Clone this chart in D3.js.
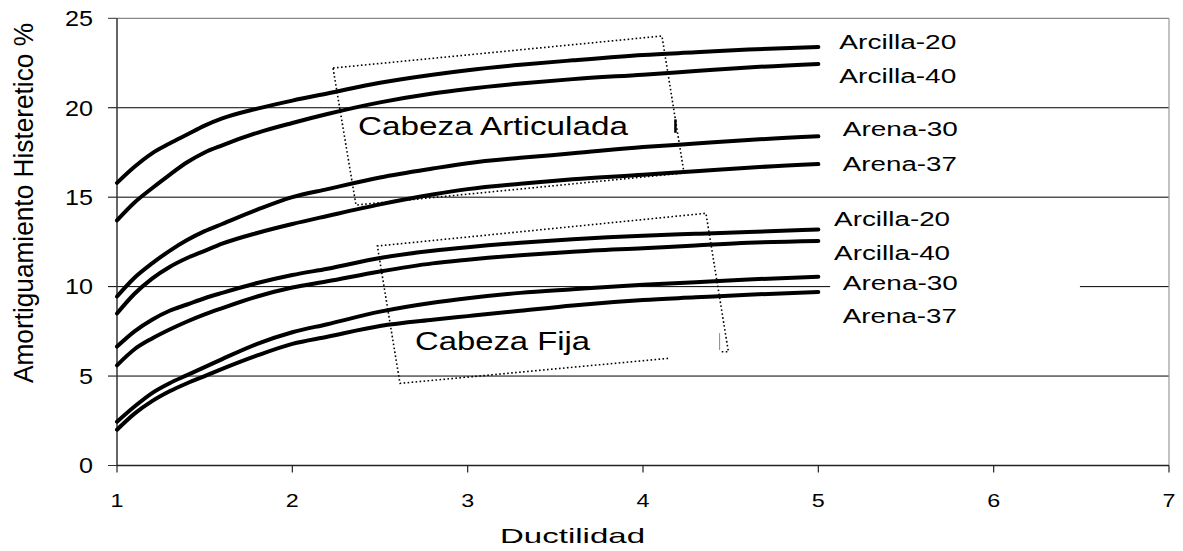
<!DOCTYPE html>
<html>
<head>
<meta charset="utf-8">
<script src="https://cdn.jsdelivr.net/npm/d3@7"></script>
<style>
  body { margin: 0; background: #fff; }
  svg { display: block; font-family: Arial, "Liberation Sans", sans-serif; }
</style>
</head>
<body>
<svg width="1183" height="551"></svg>
<script>
// Ductilidad values (x) shared by all curves
const ductilidad = [1, 1.1, 1.2, 1.3, 1.4, 1.5, 1.6, 1.8, 2, 2.2, 2.5, 2.8, 3, 3.3, 3.6, 4, 4.3, 4.6, 5];

// Cabeza Articulada
const artArcilla20 = [15.8, 16.7, 17.45, 18.0, 18.5, 19.0, 19.4, 19.95, 20.4, 20.8, 21.4, 21.85, 22.1, 22.4, 22.65, 22.95, 23.1, 23.25, 23.4];
const artArcilla40 = [13.7, 14.7, 15.5, 16.25, 16.95, 17.5, 17.9, 18.6, 19.15, 19.65, 20.3, 20.8, 21.05, 21.35, 21.6, 21.85, 22.05, 22.25, 22.45];
const artArena30 = [9.45, 10.5, 11.3, 12.0, 12.6, 13.1, 13.5, 14.3, 15.0, 15.45, 16.1, 16.6, 16.9, 17.2, 17.45, 17.8, 18.0, 18.2, 18.4];
const artArena37 = [8.5, 9.6, 10.45, 11.1, 11.6, 12.0, 12.4, 13.0, 13.5, 13.95, 14.6, 15.15, 15.45, 15.75, 16.0, 16.25, 16.45, 16.65, 16.85];

// Cabeza Fija
const fijaArcilla20 = [6.65, 7.5, 8.15, 8.65, 9.0, 9.35, 9.65, 10.2, 10.65, 11.0, 11.6, 12.0, 12.2, 12.45, 12.65, 12.85, 12.95, 13.05, 13.2];
const fijaArcilla40 = [5.6, 6.5, 7.1, 7.6, 8.05, 8.45, 8.8, 9.45, 9.95, 10.3, 10.85, 11.3, 11.5, 11.75, 11.95, 12.15, 12.3, 12.45, 12.55];
const fijaArena30 = [2.45, 3.3, 4.05, 4.6, 5.05, 5.5, 5.95, 6.8, 7.45, 7.9, 8.6, 9.1, 9.35, 9.65, 9.85, 10.1, 10.25, 10.4, 10.55];
const fijaArena37 = [2.0, 2.9, 3.6, 4.15, 4.6, 5.0, 5.4, 6.15, 6.8, 7.2, 7.8, 8.15, 8.35, 8.65, 8.95, 9.25, 9.4, 9.55, 9.7];

const seriesNames = ["Arcilla-20", "Arcilla-40", "Arena-30", "Arena-37"];
const allSeries = [artArcilla20, artArcilla40, artArena30, artArena37,
                   fijaArcilla20, fijaArcilla40, fijaArena30, fijaArena37];

const xTicks = [1, 2, 3, 4, 5, 6, 7];
const yTicks = [0, 5, 10, 15, 20, 25];

// label placement (data units) for the 8 curve labels: [x, baseline y, width px]
const labelPos = [
  [5.12, 23.28, 117], [5.12, 21.38, 117], [5.14, 18.43, 115], [5.14, 16.48, 114],
  [5.09, 13.39, 116], [5.09, 11.49, 116], [5.14, 9.81, 115], [5.14, 7.97, 114]
];

// dotted annotation boxes (data units)
const boxArticulada = [[2.232, 22.22], [4.108, 24.01], [4.234, 16.35], [2.363, 14.56], [2.232, 22.22]];
const boxFijaOpen = [[4.143, 5.99], [2.614, 4.59], [2.485, 12.27], [4.359, 14.10], [4.487, 6.36], [4.439, 6.36]];

const svg = d3.select("svg");
const margin = { top: 18.3, left: 117, right: 14, bottom: 85.5 };
const width = +svg.attr("width");
const height = +svg.attr("height");

const x = d3.scaleLinear().domain([1, 7]).range([margin.left, width - margin.right]);
const y = d3.scaleLinear().domain([0, 25]).range([height - margin.bottom, margin.top]);

// horizontal gridlines (extend out as tick marks)
svg.append("g")
  .selectAll("line")
  .data([5, 10, 15, 20])
  .enter().append("line")
    .attr("x1", x(1) - 9)
    .attr("x2", x(7))
    .attr("y1", d => y(d))
    .attr("y2", d => y(d))
    .attr("stroke", "#000")
    .attr("stroke-width", 1);

// tick at 25 / 0
svg.append("line").attr("x1", x(1) - 9).attr("x2", x(1)).attr("y1", y(25)).attr("y2", y(25)).attr("stroke", "#333");
svg.append("line").attr("x1", x(1) - 9).attr("x2", x(1)).attr("y1", y(0)).attr("y2", y(0)).attr("stroke", "#333");

// top and right border (grey)
svg.append("line").attr("x1", x(1)).attr("x2", x(7)).attr("y1", y(25)).attr("y2", y(25))
  .attr("stroke", "#888").attr("stroke-width", 1.2);
svg.append("line").attr("x1", x(7)).attr("x2", x(7)).attr("y1", y(25)).attr("y2", y(0))
  .attr("stroke", "#999").attr("stroke-width", 1.2);

// white text box behind the lower labels
svg.append("rect")
  .attr("x", x(5.067)).attr("y", y(14.56))
  .attr("width", x(6.492) - x(5.067)).attr("height", y(7.46) - y(14.56))
  .attr("fill", "#fff");

// axes
svg.append("line").attr("x1", x(1)).attr("x2", x(1)).attr("y1", y(25)).attr("y2", y(0))
  .attr("stroke", "#333").attr("stroke-width", 1.5);
svg.append("line").attr("x1", x(1)).attr("x2", x(7)).attr("y1", y(0)).attr("y2", y(0))
  .attr("stroke", "#222").attr("stroke-width", 1.5);

svg.append("g")
  .selectAll("line")
  .data(xTicks)
  .enter().append("line")
    .attr("x1", d => x(d)).attr("x2", d => x(d))
    .attr("y1", y(0)).attr("y2", y(0) + 7)
    .attr("stroke", "#222").attr("stroke-width", 1.2);

// tick labels
svg.append("g")
  .selectAll("text")
  .data(xTicks)
  .enter().append("text")
    .attr("x", d => x(d))
    .attr("y", 507)
    .attr("text-anchor", "middle")
    .attr("font-size", 19)
    .attr("textLength", 13)
    .attr("lengthAdjust", "spacingAndGlyphs")
    .text(d => d);

svg.append("g")
  .selectAll("text")
  .data(yTicks)
  .enter().append("text")
    .attr("x", 93)
    .attr("y", d => y(d) + 7.8)
    .attr("text-anchor", "end")
    .attr("font-size", 22)
    .attr("textLength", d => String(d).length * 14)
    .attr("lengthAdjust", "spacingAndGlyphs")
    .text(d => d);

// axis titles
svg.append("text")
  .attr("x", 500)
  .attr("y", 543)
  .attr("font-size", 21)
  .attr("textLength", 145)
  .attr("lengthAdjust", "spacingAndGlyphs")
  .text("Ductilidad");

svg.append("text")
  .attr("transform", "translate(33,203) rotate(-90)")
  .attr("text-anchor", "middle")
  .attr("font-size", 27)
  .attr("textLength", 360)
  .attr("lengthAdjust", "spacingAndGlyphs")
  .text("Amortiguamiento Histeretico %");

// dotted boxes
const boxLine = d3.line().x(d => x(d[0])).y(d => y(d[1]));
[boxArticulada, boxFijaOpen].forEach(b => {
  svg.append("path")
    .attr("d", boxLine(b))
    .attr("fill", "none")
    .attr("stroke", "#000")
    .attr("stroke-width", 1.6)
    .attr("stroke-dasharray", "1.6,2.4");
});
// small stray marks inside the boxes
svg.append("line").attr("x1", x(4.185)).attr("x2", x(4.185)).attr("y1", y(19.35)).attr("y2", y(18.6))
  .attr("stroke", "#000").attr("stroke-width", 2.5);
svg.append("line").attr("x1", x(4.437)).attr("x2", x(4.437)).attr("y1", y(7.4)).attr("y2", y(6.45))
  .attr("stroke", "#888").attr("stroke-width", 1);

// box captions
svg.append("text")
  .attr("x", 358).attr("y", 135)
  .attr("font-size", 26)
  .attr("textLength", 270)
  .attr("lengthAdjust", "spacingAndGlyphs")
  .text("Cabeza Articulada");
svg.append("text")
  .attr("x", 415).attr("y", 350)
  .attr("font-size", 25.5)
  .attr("textLength", 175)
  .attr("lengthAdjust", "spacingAndGlyphs")
  .text("Cabeza Fija");

// curves
const line = d3.line()
  .x((d, i) => x(ductilidad[i]))
  .y(d => y(d))
  .curve(d3.curveMonotoneX);

svg.append("g")
  .selectAll("path")
  .data(allSeries)
  .enter().append("path")
    .attr("d", d => line(d))
    .attr("fill", "none")
    .attr("stroke", "#000")
    .attr("stroke-width", 4)
    .attr("stroke-linecap", "round")
    .attr("stroke-linejoin", "round");

// curve labels
svg.append("g")
  .selectAll("text")
  .data(labelPos)
  .enter().append("text")
    .attr("x", d => x(d[0]))
    .attr("y", d => y(d[1]))
    .attr("font-size", 19.5)
    .attr("textLength", d => d[2])
    .attr("lengthAdjust", "spacingAndGlyphs")
    .text((d, i) => seriesNames[i % 4]);
</script>
</body>
</html>
